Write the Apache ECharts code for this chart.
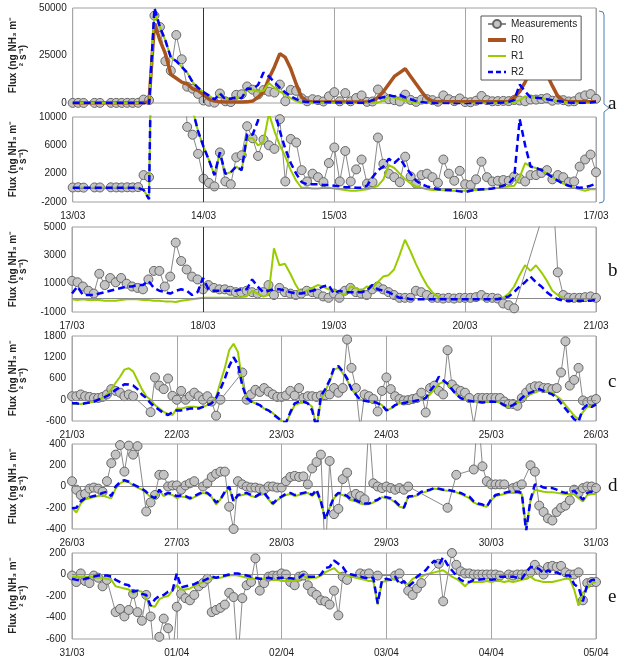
<!DOCTYPE html>
<html><head><meta charset="utf-8">
<script src="https://cdn.jsdelivr.net/npm/echarts@6/dist/echarts.min.js"></script>
<style>html,body{margin:0;padding:0;background:#fff}#c{width:624px;height:658px}</style>
</head><body><div id="c"></div>
<script>
// ---------------- DATA (hourly values, ng NH3 m-2 s-1) ----------------
const ticksA = ['13/03','14/03','15/03','16/03','17/03'];
const ticksB = ['17/03','18/03','19/03','20/03','21/03'];
const ticksC = ['21/03','22/03','23/03','24/03','25/03','26/03'];
const ticksD = ['26/03','27/03','28/03','29/03','30/03','31/03'];
const ticksE = ['31/03','01/04','02/04','03/04','04/04','05/04'];

const yLabA1 = [0,25000,50000];
const yLabA2 = [-2000,2000,6000,10000];
const yLabB = [-1000,1000,3000,5000];
const yLabC = [-600,0,600,1200,1800];
const yLabD = [-400,-200,0,200,400];
const yLabE = [-600,-400,-200,0,200];

const seriesNames = ['Measurements','R0','R1','R2'];

// Panel a: 13/03 - 17/03
const measA = [50,80,30,null,60,50,null,70,60,50,80,60,100,
 1800,1500,46000,40000,22000,17000,35800,23000,8600,7500,4800,1300,
 700,200,5000,900,500,4300,4600,8700,7000,4500,6800,6000,5500,9700,900,6900,6400,2500,900,2000,1500,800,3500,5700,
 900,5200,900,2600,4000,600,800,7100,3400,2000,1500,800,4400,1600,600,1800,2000,1500,700,4000,2000,1000,2400,500,
 400,1200,3700,1500,900,1000,1100,1000,1600,1300,900,1800,1800,2100,2500,1200,1800,1500,800,900,3000,4000,4700,2200];
const r0A = [0,0,0,0,0,0,0,0,0,0,0,0,0,
 200,500,42000,33000,26000,15000,13000,11000,10000,7500,6500,4500,
 2000,1000,600,500,500,500,500,600,1000,3000,6000,13000,19000,26000,24000,18000,10000,3000,1000,500,500,500,500,500,
 500,500,500,500,500,500,800,3000,6000,10000,14000,16000,18000,14000,10000,6000,2500,1000,600,600,600,600,600,600,
 600,600,600,600,600,600,600,800,3000,6000,11000,17000,20000,19000,15000,9000,3500,1200,700,600,600,600,600,600];
const r1A = [0,0,0,0,0,0,0,0,0,0,0,0,0,
 -300,-1500,48000,40000,33000,24000,22000,19000,16000,11000,8000,5800,
 3900,1800,5000,2000,2200,3000,2500,7000,7000,6000,6500,10500,8000,6000,4400,2500,1000,0,0,-100,-100,0,0,-100,
 -200,-300,-400,-400,-300,-200,0,300,1200,3200,2800,2000,1200,600,200,0,-200,-300,-300,-350,-400,-400,-400,-400,
 -350,-300,-300,-200,-100,0,100,200,300,1500,3500,3000,2800,2500,2000,1500,1000,600,300,0,-200,-400,-200,-200];
const r2A = [0,0,0,0,0,0,0,0,0,0,0,0,0,
 -300,-1600,50000,40000,33000,24000,22000,19000,16000,11000,8000,5800,
 3900,1800,5000,2000,2200,3000,2500,7600,7500,9500,16000,14000,11000,8000,5500,3500,2000,800,500,500,500,400,400,300,
 200,100,100,0,0,300,1500,2500,3000,4100,3500,4200,3000,2000,1000,500,200,0,-200,-300,-300,-400,-500,-600,
 -400,-300,-200,-200,-100,100,300,600,1500,9700,6000,3000,2800,2500,2000,1500,1000,600,300,100,0,100,300,600];

// Panel b: 17/03 - 21/03
const measB = [1200,1100,800,500,300,1700,900,1400,1100,1400,1000,800,700,600,1300,1900,1900,800,1500,3900,2600,2000,1500,1300,
 600,900,700,600,600,500,400,400,500,400,300,400,900,200,700,400,300,200,300,500,400,300,100,0,
 300,0,500,700,400,300,200,600,800,600,400,200,0,0,0,500,400,200,0,0,-50,0,-50,0,
 0,0,50,200,0,0,-50,-400,-520,-740,null,null,null,null,null,null,8000,1800,200,0,0,0,50,100,0];
const r1B = [-100,-150,-100,-150,-150,-150,-200,-200,-200,-150,-100,-100,-100,-150,-150,-200,-200,-250,-250,-300,-200,-150,-100,-50,
 0,0,0,0,0,0,0,50,100,500,300,100,200,3500,2300,2400,1700,900,300,500,700,900,800,600,
 500,400,200,800,700,500,800,700,1100,1500,1600,2000,3000,4100,3300,2400,1600,900,400,100,-50,-50,-100,-100,
 -100,-100,-100,-100,-100,-100,0,0,300,800,1600,2300,1900,2300,1800,1200,500,200,0,-100,-100,-100,-100,-100,-100];
const r2B = [300,800,200,200,200,300,400,500,600,700,800,800,900,900,1200,700,500,400,300,500,600,500,200,400,
 1400,600,500,500,500,500,500,600,600,1300,800,400,500,600,600,500,400,300,300,400,500,600,800,900,
 300,500,400,400,400,400,500,900,600,500,400,200,0,0,-100,-100,-100,-100,-100,-100,-100,-100,-100,-100,
 -100,-100,-100,-100,-100,-100,-100,0,100,400,800,1100,1500,1100,800,400,100,-100,-200,-200,-200,-200,-200,-200,-150];

// Panel c: 21/03 - 26/03
const measC = [100,100,150,100,80,50,50,80,150,300,250,200,100,150,100,null,null,null,-350,630,400,300,600,110,
 0,250,0,100,200,100,0,100,-50,-450,0,null,null,null,null,770,0,150,280,220,330,230,150,80,
 80,120,250,120,330,50,100,100,80,120,130,150,330,200,330,1700,900,330,-800,150,100,20,-330,250,
 630,300,100,20,-20,-10,20,50,200,-360,330,400,250,150,1400,430,300,250,200,50,-700,50,50,50,
 50,50,50,-50,-120,-120,-170,50,200,330,380,380,330,330,300,330,770,1650,400,560,900,-20,-70,-20,20];
const r1C = [-120,-120,-120,-100,-80,-50,0,50,150,300,480,650,850,890,800,550,300,100,0,-150,-250,-340,-400,-430,
 -250,-250,-220,-200,-200,-220,-200,-150,-50,80,500,900,1400,1580,1350,500,0,-50,-100,-150,-250,-300,-380,-480,
 -600,-650,-400,-150,-100,-80,-100,-200,-800,0,250,500,850,900,750,550,300,150,0,-30,-50,-50,-100,-150,
 -300,-250,-150,-100,-100,-60,-50,-20,0,50,150,300,450,500,450,300,150,50,0,-30,-50,-60,-80,-60,
 -50,-60,-80,-150,-200,-150,-80,0,100,150,200,250,250,230,200,100,0,-150,-300,-450,-550,-350,-200,-200,-150];
const r2C = [-100,-100,-120,-100,-80,-50,0,50,100,180,280,350,440,430,400,300,150,50,-100,-200,-290,-380,-430,-350,
 -300,-300,-280,-250,-250,-250,-200,-150,-100,50,300,600,950,1200,1000,400,50,-50,-100,-150,-250,-300,-400,-500,
 -600,-650,-350,-100,-50,-50,-100,-300,-800,100,300,550,900,950,800,600,300,150,0,-30,-50,-50,-100,-150,
 -300,-250,-150,-100,-100,-60,-50,-20,0,50,250,400,650,550,450,300,150,50,0,-30,-50,-60,-80,-60,
 -50,-60,-80,-150,-200,-150,-80,50,150,200,250,300,250,200,150,50,-100,-250,-400,-550,-620,-250,-150,-200,-130];

// Panel d: 26/03 - 31/03
const measD = [50,-30,-80,-70,-20,-10,-20,-50,50,220,300,390,140,385,300,380,null,-235,-150,-80,110,110,0,10,
 10,-30,10,30,50,null,0,30,90,120,140,140,-190,-400,50,20,0,-10,-10,-20,-30,0,0,-10,
 -10,50,90,100,90,95,20,170,230,300,-700,240,-260,-210,70,130,-90,-70,-90,-120,600,30,0,-15,
 0,-15,-30,-15,-30,0,null,null,null,null,null,null,null,null,-200,null,110,null,null,null,160,700,190,50,
 20,20,20,20,null,-15,0,20,null,200,140,-180,-240,-300,-320,-240,-200,-180,-130,-30,-60,-15,0,0,-15];
const r1D = [-200,-245,-160,-120,-110,-100,-90,-80,-100,-110,-20,30,50,40,10,-10,-30,-60,-100,-120,-40,-90,-70,-80,
 -110,-95,-100,-120,-100,-80,-60,-70,-100,-170,-120,-60,-10,-140,-90,-80,-70,-90,-100,-80,-70,-120,-170,-130,
 -100,-80,-70,-90,-80,-70,-60,-90,-50,-150,-300,-200,-110,-70,-80,-100,-130,-140,-160,-170,-165,-150,-130,-100,
 -110,-120,-150,-190,-200,-100,-95,-85,-60,-50,-35,-20,-25,-35,-40,-45,-55,-70,-90,-110,-150,-170,-180,-190,
 -130,-90,-80,-70,-60,-60,-60,-70,-400,-130,-30,-40,-50,-55,-55,-60,-65,-70,-70,-70,-110,-140,-80,-70,-70];
const r2D = [-205,-200,-140,-110,-100,-90,-80,-60,-50,-90,0,40,60,45,20,0,-20,-50,-90,-110,-30,-80,-60,-70,
 -90,-85,-90,-110,-90,-70,-50,-60,-95,-150,-120,-50,0,-140,-80,-70,-60,-80,-95,-70,-60,-110,-160,-120,
 -95,-70,-60,-80,-70,-60,-50,-80,-30,-140,-310,-200,-100,-60,-70,-90,-125,-130,-150,-160,-160,-140,-125,-95,
 -100,-110,-140,-180,-200,-95,-90,-80,-50,-40,-30,-15,-20,-30,-30,-40,-50,-60,-80,-95,-140,-160,-170,-190,
 -120,-80,-70,-60,-50,-50,-50,-60,-420,-125,20,10,-10,-15,-15,-30,-50,-60,-55,-40,-80,-125,-60,-50,-60];

// Panel e: 31/03 - 05/04
const measE = [-10,-70,10,-60,-80,-10,-30,-110,-50,null,-350,-320,-390,-330,-180,-350,-430,-190,-390,-800,-580,-410,-500,-800,
 -300,-180,-220,-240,-190,-110,-80,-40,-350,-330,-310,-280,-170,-210,-800,-220,-100,-70,150,-150,-80,-20,-10,-10,
 10,0,-70,-100,-20,-10,-100,-160,-190,-240,-250,-280,-150,-380,-20,-50,null,null,10,0,10,null,-10,null,
 null,null,-10,10,null,-150,-190,-130,-80,null,null,null,100,-250,null,200,90,30,10,10,0,0,0,0,
 0,0,-10,null,0,-10,0,0,0,20,90,40,0,70,80,70,80,20,0,0,20,-240,-80,-70,-70];
const r1E = [-20,-20,-25,-20,-20,-25,-30,-30,-40,-50,-110,-120,-130,-140,-180,-150,-160,-220,-290,-300,-230,-210,-200,-150,
 -100,-140,-140,-130,-110,-90,-70,-50,-40,-30,-30,-20,-10,-5,-10,-20,-30,-40,-40,-40,-40,-40,-50,-50,
 -60,-60,-60,-60,-50,-10,-40,-30,-30,-10,20,40,60,20,0,-10,-20,-30,-40,-50,-60,-60,-280,-70,
 -60,-50,-40,-70,-80,-90,-40,-20,-20,0,10,20,30,40,10,-20,-40,-70,-110,-70,-70,-70,-70,-60,
 -70,-60,-60,-70,-60,-70,-60,-50,-40,-20,-50,-60,-70,-70,-70,-60,-50,-40,-40,-140,-290,-170,-130,-80,-70];
const r2E = [-40,-50,-55,-40,-30,-20,-10,-10,-10,-20,-50,-70,-90,-100,-160,-150,-180,-190,-290,-230,-200,-190,-160,-150,
 10,-120,-110,-100,-90,-70,-60,-40,-20,-30,-20,-10,0,10,10,0,-10,-20,-30,-40,-40,-30,-40,-35,
 -30,-35,-35,-40,-30,0,-20,-20,-20,0,60,70,130,100,70,10,0,-10,-20,-30,-40,-30,-270,-50,
 -40,-50,-20,-90,-60,-110,-80,-20,10,40,90,130,90,160,90,40,-10,-50,-70,-70,-50,-50,-45,-40,
 -50,-45,-20,-20,-20,-20,-30,-40,20,70,70,50,10,40,10,20,0,-10,-10,-90,-120,-250,-90,-50,-50];

// ---------------- LAYOUT / STYLE ----------------
const STEP = 1/24; // hourly samples, x in days
const FONT = '"Liberation Sans", Arial, sans-serif';
const panels = [
  {top:8,   height:95, ticks:ticksA, showX:false, yMin:0,     yMax:50000, yStep:25000, yLab:yLabA1, meas:measA, r0:r0A, r1:r1A, r2:r2A, zero:false, dark:true},
  {top:117, height:85, ticks:ticksA, showX:true,  yMin:-2000, yMax:10000, yStep:2000,  yLab:yLabA2, meas:measA, r1:r1A, r2:r2A, zero:true, dark:true},
  {top:227, height:85, ticks:ticksB, showX:true,  yMin:-1000, yMax:5000,  yStep:1000,  yLab:yLabB,  meas:measB, r1:r1B, r2:r2B, zero:true, dark:true},
  {top:336, height:85, ticks:ticksC, showX:true,  yMin:-600,  yMax:1800,  yStep:600,   yLab:yLabC,  meas:measC, r1:r1C, r2:r2C, zero:true},
  {top:444, height:85, ticks:ticksD, showX:true,  yMin:-400,  yMax:400,   yStep:200,   yLab:yLabD,  meas:measD, r1:r1D, r2:r2D, zero:true},
  {top:553, height:86, ticks:ticksE, showX:true,  yMin:-600,  yMax:200,   yStep:200,   yLab:yLabE,  meas:measE, r1:r1E, r2:r2E, zero:true}
];
const toXY = arr => arr.map((v,i) => [i*STEP, v]);

const grids = [], xAxes = [], yAxes = [], series = [];
panels.forEach((p, g) => {
  grids.push({left:63, right:28, top:p.top, height:p.height, show:true, borderColor:'#a0a0a0', borderWidth:1, backgroundColor:'#fff'});
  xAxes.push({type:'value', gridIndex:g, min:0, max:p.ticks.length-1, interval:1,
    axisLine:{show:false}, axisTick:{show:false},
    splitLine:{show:true, lineStyle:{color:'#a6a6a6', width:1}},
    axisLabel:{show:p.showX, margin:9, fontSize:10, color:'#222', fontFamily:FONT,
      formatter: v => p.ticks[Math.round(v)] || ''}});
  yAxes.push({type:'value', gridIndex:g, min:p.yMin, max:p.yMax, interval:p.yStep,
    axisLine:{show:false}, axisTick:{show:false}, splitLine:{show:false},
    axisLabel:{margin:6, fontSize:10, color:'#222', fontFamily:FONT,
      formatter: v => p.yLab.indexOf(Math.round(v)) >= 0 ? String(Math.round(v)) : ''},
    name:'Flux (ng NH\u2083 m\u207B\n\u00B2 s\u207B\u00B9)', nameLocation:'middle', nameRotate:90, nameGap:44,
    nameTextStyle:{fontWeight:'bold', fontSize:10, lineHeight:10, color:'#222', fontFamily:FONT}});
  const meas = {name:'Measurements', type:'line', xAxisIndex:g, yAxisIndex:g, data:toXY(p.meas),
    symbol:'circle', symbolSize:9, showSymbol:true, connectNulls:true, clip:true, z:2,
    color:'#c4c4c4',
    lineStyle:{color:'#8a8a8a', width:1},
    itemStyle:{color:'#c4c4c4', borderColor:'#666', borderWidth:1}};
  const mk = [];
  if (p.zero) mk.push({yAxis:0, lineStyle:{color:'#8a8a8a', width:1, type:'solid'}});
  if (p.dark) mk.push({xAxis:1, lineStyle:{color:'#333', width:1, type:'solid'}});
  if (mk.length) meas.markLine = {silent:true, symbol:'none', label:{show:false}, animation:false,
    lineStyle:{color:'#8a8a8a', width:1, type:'solid'}, data:mk};
  series.push(meas);
  if (p.r0) series.push({name:'R0', type:'line', xAxisIndex:g, yAxisIndex:g, data:toXY(p.r0),
    symbol:'none', clip:true, z:3, color:'#a9541f', lineStyle:{color:'#a9541f', width:3.5}});
  series.push({name:'R1', type:'line', xAxisIndex:g, yAxisIndex:g, data:toXY(p.r1),
    symbol:'none', clip:true, z:4, color:'#99cc00', lineStyle:{color:'#99cc00', width:2}});
  series.push({name:'R2', type:'line', xAxisIndex:g, yAxisIndex:g, data:toXY(p.r2),
    symbol:'none', clip:true, z:5, color:'#0000ff', lineStyle:{color:'#0000ff', width:2.5, type:[7,4]}});
});

const letters = [['a',104],['b',271],['c',382],['d',486],['e',597]];
const graphic = letters.map(([t,y]) => ({type:'text', x:608, y:y,
  style:{text:t, fontSize:19, fontFamily:'"Liberation Serif", "DejaVu Serif", serif', fill:'#111', verticalAlign:'middle', align:'left'}}));
graphic.push({type:'polyline', shape:{points:[[599,11],[603,12],[604,15],[604,104],[609,108],[604,112],[604,200],[603,202],[599,203]]},
  style:{stroke:'#4a7ebb', lineWidth:1, fill:null}});

const legendData = [
  {name:'Measurements'},
  {name:'R0', itemStyle:{opacity:0}, lineStyle:{width:4, color:'#a9541f'}},
  {name:'R1', itemStyle:{opacity:0}, lineStyle:{width:2, color:'#99cc00'}},
  {name:'R2', itemStyle:{opacity:0}, lineStyle:{width:2.5, color:'#0000ff', type:[5,3]}}
];

const chart = echarts.init(document.getElementById('c'), null, {renderer:'canvas'});
chart.setOption({
  animation:false,
  backgroundColor:'#fff',
  grid:grids, xAxis:xAxes, yAxis:yAxes, series:series, graphic:graphic,
  legend:{data:legendData, orient:'vertical', left:481, top:16, padding:[3,4,3,5], itemGap:6,
    itemWidth:18, itemHeight:10, borderColor:'#555', borderWidth:1, backgroundColor:'#fff',
    textStyle:{fontSize:10, color:'#222', fontFamily:FONT}, selectedMode:false}
});
</script></body></html>
